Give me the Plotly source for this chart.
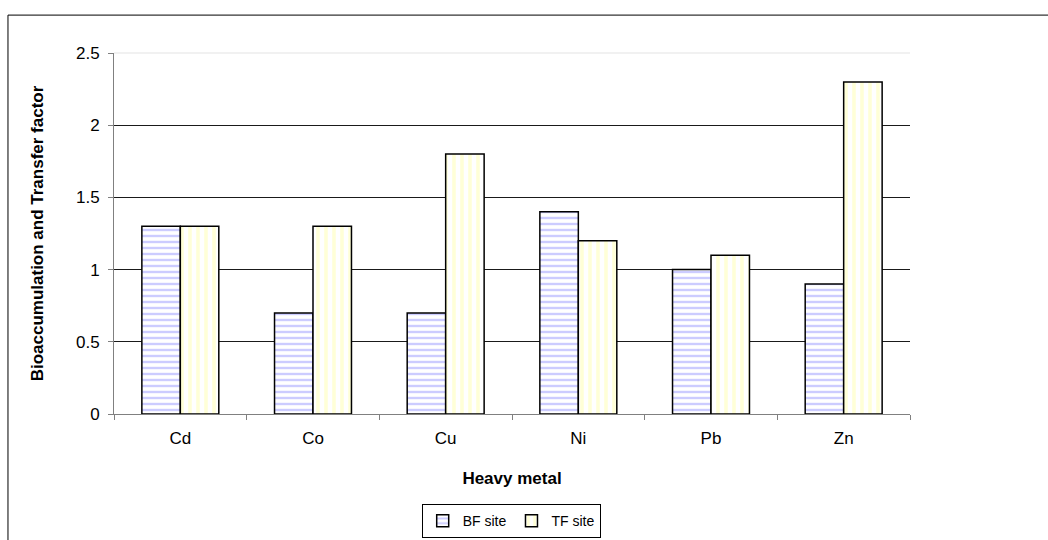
import plotly.graph_objects as go

categories = ["Cd", "Co", "Cu", "Ni", "Pb", "Zn"]
bf_site = [1.3, 0.7, 0.7, 1.4, 1.0, 0.9]
tf_site = [1.3, 1.3, 1.8, 1.2, 1.1, 2.3]
y_ticks = [0, 0.5, 1, 1.5, 2, 2.5]
y_tick_labels = ["0", "0.5", "1", "1.5", "2", "2.5"]

FONT = "Liberation Sans, Arial, sans-serif"

fig = go.Figure()
fig.add_trace(go.Bar(
    x=categories, y=bf_site, name="BF site",
    marker=dict(color="white", line=dict(color="black", width=1.5),
                pattern=dict(shape="-", fgcolor="#9a9aff", bgcolor="white", size=6, solidity=0.4)),
))
fig.add_trace(go.Bar(
    x=categories, y=tf_site, name="TF site",
    marker=dict(color="white", line=dict(color="black", width=1.5),
                pattern=dict(shape="|", fgcolor="#ffffb0", bgcolor="white", size=8, solidity=0.45)),
))

fig.update_layout(
    width=1048, height=540,
    margin=dict(l=114, r=138, t=53, b=126, autoexpand=False),
    paper_bgcolor="white", plot_bgcolor="white",
    barmode="group", bargap=0.42, bargroupgap=0,
    font=dict(family=FONT, size=17, color="black"),
    showlegend=True,
    legend=dict(orientation="h", x=0.499, xanchor="center", y=-0.25, yanchor="top",
                bordercolor="black", borderwidth=1, font=dict(size=14),
                itemwidth=30, tracegroupgap=0, traceorder="normal"),
    xaxis=dict(
        automargin=False,
        showline=True, linecolor="#808080", linewidth=1,
        ticks="outside", ticklen=5, tickcolor="#808080", tickson="boundaries",
        ticklabelstandoff=9,
        title=dict(text="<b>Heavy metal</b>", font=dict(size=17), standoff=24),
        tickfont=dict(size=17),
    ),
    yaxis=dict(
        automargin=False,
        range=[0, 2.5], tickvals=y_ticks, ticktext=y_tick_labels,
        showline=True, linecolor="#808080", linewidth=1,
        ticks="outside", ticklen=5, tickcolor="#808080",
        ticklabelstandoff=5,
        showgrid=True, gridcolor="#1a1a1a", gridwidth=1,
        zeroline=False,
        title=dict(text="<b>Bioaccumulation and Transfer factor</b>", font=dict(size=17), standoff=28),
        tickfont=dict(size=17),
    ),
    shapes=[
        dict(type="line", xref="paper", yref="paper", x0=0, x1=1, y0=1, y1=1,
             line=dict(color="#ececec", width=1.5), layer="above"),
        dict(type="rect", xref="paper", yref="paper", x0=-0.1332, x1=1.25, y0=-0.45, y1=1.105,
             line=dict(color="black", width=1), fillcolor="rgba(0,0,0,0)", layer="below"),
    ],
)

fig.write_html("out.html")
